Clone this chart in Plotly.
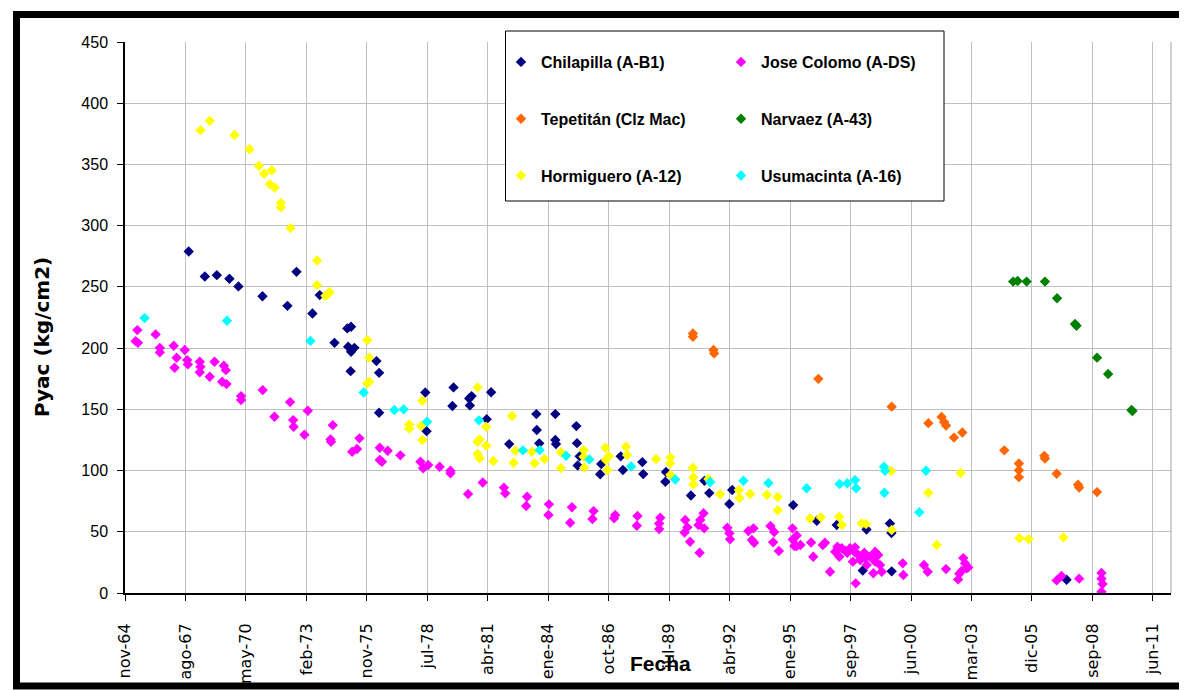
import plotly.graph_objects as go
from datetime import datetime, timedelta

# ---------------- data (decimal year, Pyac kg/cm2) ----------------
chil_x = [1967.77, 1968.50, 1969.04, 1969.61, 1970.02, 1971.11, 1972.24, 1972.65, 1973.37, 1973.70,
          1974.37, 1974.95, 1975.12, 1974.99, 1975.27, 1975.12, 1975.10, 1976.27, 1976.39, 1976.39,
          1978.48, 1978.54, 1979.76, 1979.71, 1980.47, 1980.58, 1980.50, 1981.46, 1981.26, 1982.28,
          1983.51, 1984.37, 1983.53, 1983.64, 1984.37, 1984.40, 1985.32, 1985.35, 1985.47, 1985.38,
          1986.40, 1986.45, 1987.33, 1987.43, 1988.31, 1988.35, 1989.38, 1989.35, 1990.51, 1991.12,
          1991.34, 1992.38, 1992.25, 1995.14, 1996.21, 1997.11, 1998.46, 1999.52, 1999.59, 1998.29,
          1999.60, 2007.52]
chil_y = [278.9, 258.5, 259.6, 256.6, 250.4, 242.4, 234.5, 262.3, 228.3, 243.3,
          204.3, 216.1, 217.4, 201.1, 200.2, 197.0, 181.2, 189.4, 179.8, 147.2,
          163.7, 132.2, 167.9, 152.7, 158.8, 160.8, 153.2, 163.9, 142.0, 121.6,
          146.1, 146.1, 133.1, 122.2, 124.9, 121.6, 136.3, 122.4, 111.6, 104.1,
          97.0, 105.3, 111.6, 100.4, 106.9, 97.1, 98.8, 90.9, 79.6, 91.6,
          81.6, 84.1, 72.7, 71.8, 59.0, 55.5, 51.8, 56.7, 49.0, 18.4,
          17.7, 10.8]

colomo_x = [1965.44, 1965.36, 1965.47, 1966.27, 1966.46, 1966.46, 1967.09, 1967.22, 1967.13, 1967.59,
            1967.70, 1967.73, 1968.27, 1968.30, 1968.27, 1968.94, 1968.72, 1969.36, 1969.45, 1969.28,
            1969.48, 1970.14, 1970.14, 1971.12, 1971.65, 1972.36, 1972.50, 1972.52, 1973.01, 1973.16,
            1974.29, 1974.19, 1974.21, 1975.50, 1975.39, 1975.17, 1976.42, 1976.78, 1976.42, 1976.52,
            1977.35, 1978.26, 1978.38, 1978.61, 1979.13, 1979.62, 1979.62, 1980.42, 1981.08, 1982.04,
            1982.10, 1983.09, 1983.05, 1984.08, 1984.06, 1985.12, 1985.04, 1986.10, 1986.05, 1987.08,
            1987.03, 1988.09, 1988.06, 1989.12, 1989.07, 1989.07, 1990.25, 1990.35, 1990.22, 1990.47,
            1990.90, 1990.93, 1991.08, 1991.11, 1990.85, 1992.16, 1992.25, 1992.28, 1993.11, 1993.34,
            1993.27, 1993.37, 1994.11, 1994.28, 1994.23, 1994.49, 1995.11, 1995.12, 1995.30, 1995.30,
            1995.47, 1995.19, 1995.95, 1996.05, 1996.48, 1996.58, 1996.81, 1997.04, 1997.14, 1997.23,
            1997.34, 1997.49, 1997.59, 1997.71, 1997.94, 1997.91, 1997.84, 1998.09, 1998.17, 1998.36,
            1998.39, 1998.47, 1998.62, 1998.85, 1998.99, 1998.85, 1999.07, 1998.77, 1999.15, 1997.97,
            2000.10, 2000.13, 2001.06, 2001.23, 2002.06, 2002.66, 2002.61, 2002.84, 2002.92, 2002.99,
            2002.77, 2003.07, 2007.07, 2007.29, 2008.09, 2009.10, 2009.10, 2009.15, 2009.10]
colomo_y = [214.7, 205.7, 204.3, 211.2, 200.2, 196.5, 201.9, 192.1, 183.9, 198.4,
            190.2, 186.7, 188.8, 184.7, 180.2, 188.8, 176.6, 185.6, 182.0, 172.5,
            170.6, 160.8, 157.6, 165.7, 143.9, 155.9, 141.2, 135.8, 129.2, 148.8,
            137.1, 125.5, 123.5, 126.3, 117.6, 115.3, 118.6, 116.2, 108.6, 107.2,
            112.4, 107.2, 101.8, 104.5, 103.1, 99.8, 97.7, 80.8, 90.2, 86.1,
            81.4, 78.6, 71.0, 72.4, 63.7, 70.0, 57.4, 66.9, 60.4, 63.7,
            61.0, 62.9, 54.9, 61.5, 56.7, 52.2, 59.6, 53.6, 49.4, 41.9,
            32.9, 59.6, 65.1, 52.8, 55.5, 53.3, 48.7, 43.8, 50.6, 52.8,
            43.3, 41.1, 54.7, 49.8, 41.4, 34.3, 52.8, 43.7, 46.9, 38.4,
            39.2, 38.4, 41.2, 29.6, 39.2, 41.1, 17.4, 33.7, 37.8, 29.6,
            36.5, 34.5, 32.9, 36.5, 37.3, 33.7, 25.6, 31.0, 26.9, 32.9,
            28.3, 22.9, 29.6, 33.7, 31.0, 25.6, 22.9, 16.1, 17.4, 7.9,
            24.2, 14.7, 22.9, 17.4, 19.5, 15.8, 11.1, 28.5, 24.3, 20.1,
            18.1, 20.9, 10.3, 13.9, 11.7, 16.4, 11.7, 7.4, 1.0]

tepe_x = [1990.60, 1990.60, 1991.53, 1991.56, 1996.28, 1999.60, 2001.26, 2001.86, 2001.97, 2002.06,
          2002.42, 2002.80, 2004.70, 2005.36, 2005.36, 2005.36, 2006.51, 2006.54, 2007.07, 2008.04,
          2008.09, 2008.90]
tepe_y = [212.0, 209.2, 198.4, 195.7, 174.9, 152.2, 138.7, 143.8, 139.6, 136.7,
          126.9, 131.1, 116.5, 105.8, 100.2, 94.6, 112.0, 109.8, 97.4, 88.4,
          86.1, 82.4]

narv_x = [2005.10, 2005.30, 2005.71, 2006.54, 2007.09, 2007.90, 2007.97, 2008.90, 2009.40, 2010.46, 2010.50]
narv_y = [254.3, 254.8, 254.3, 254.3, 240.7, 219.7, 218.3, 192.2, 178.9, 149.4, 148.6]

horm_x = [1968.30, 1968.72, 1969.84, 1970.52, 1970.94, 1971.18, 1971.53, 1971.44, 1971.66, 1971.94,
          1971.94, 1972.38, 1973.58, 1973.58, 1973.96, 1974.15, 1974.06, 1975.86, 1975.94, 1975.94,
          1975.85, 1978.35, 1977.75, 1977.75, 1978.29, 1978.35, 1980.85, 1981.24, 1980.85, 1980.94,
          1980.85, 1980.94, 1981.24, 1981.56, 1982.41, 1982.56, 1982.48, 1983.31, 1983.43, 1983.88,
          1984.62, 1984.62, 1985.65, 1985.65, 1985.68, 1986.64, 1986.79, 1986.66, 1986.72, 1987.57,
          1987.62, 1988.93, 1989.58, 1989.57, 1989.58, 1990.60, 1990.62, 1990.62, 1991.30, 1991.83,
          1992.68, 1992.71, 1993.19, 1993.95, 1994.44, 1994.44, 1995.90, 1996.39, 1997.22, 1997.34,
          1998.24, 1998.44, 1999.60, 1999.57, 2001.26, 2001.64, 2002.72, 2005.38, 2005.80, 2007.38]
horm_y = [378.0, 385.6, 374.1, 362.4, 348.8, 342.3, 345.3, 333.9, 331.2, 318.6,
          314.9, 298.0, 271.6, 251.4, 242.7, 245.7, 243.8, 206.5, 192.2, 172.5,
          171.2, 157.0, 137.7, 134.4, 136.3, 124.9, 167.9, 135.8, 123.5, 125.5,
          113.5, 110.0, 120.2, 107.8, 144.5, 116.2, 106.4, 115.3, 105.9, 109.4,
          114.9, 102.0, 116.7, 111.3, 102.4, 118.6, 111.8, 108.6, 100.4, 119.4,
          112.7, 109.4, 110.6, 105.9, 96.6, 102.3, 94.3, 88.7, 93.1, 80.7,
          84.1, 77.6, 80.8, 80.2, 78.4, 67.5, 60.8, 61.8, 62.3, 55.5,
          56.9, 56.3, 51.4, 99.6, 81.9, 39.2, 98.0, 44.8, 44.0, 45.4]

usum_x = [1965.77, 1969.50, 1973.28, 1975.69, 1977.08, 1977.50, 1978.56, 1980.91, 1982.90, 1983.66,
          1984.86, 1985.91, 1987.80, 1989.80, 1991.38, 1992.89, 1994.02, 1995.75, 1997.24, 1997.59,
          1997.94, 1997.99, 1999.25, 1999.30, 1999.27, 2000.85, 2001.15]
usum_y = [224.5, 222.4, 205.9, 163.8, 149.4, 150.0, 139.8, 141.0, 116.5, 116.7,
          112.1, 109.1, 103.3, 92.7, 90.6, 91.7, 89.8, 85.6, 89.0, 89.6,
          92.2, 85.5, 103.1, 99.8, 81.9, 65.9, 99.8]

tick_labels = ["nov-64", "ago-67", "may-70", "feb-73", "nov-75", "jul-78", "abr-81", "ene-84", "oct-86",
               "jul-89", "abr-92", "ene-95", "sep-97", "jun-00", "mar-03", "dic-05", "sep-08", "jun-11"]

series = [
    ("Chilapilla (A-B1)", chil_x, chil_y, "#000080", "legend"),
    ("Jose Colomo (A-DS)", colomo_x, colomo_y, "#FF00FF", "legend2"),
    ("Tepetitán (Clz Mac)", tepe_x, tepe_y, "#FF6600", "legend"),
    ("Narvaez (A-43)", narv_x, narv_y, "#008000", "legend2"),
    ("Hormiguero (A-12)", horm_x, horm_y, "#FFFF00", "legend"),
    ("Usumacinta (A-16)", usum_x, usum_y, "#00FFFF", "legend2"),
]


def to_date(v):
    y = int(v)
    return datetime(y, 1, 1) + timedelta(days=(v - y) * 365.25)


start = datetime(1964, 11, 19)          # Excel axis minimum (serial 23700)
tick_vals = [start + timedelta(days=1000 * i) for i in range(len(tick_labels))]
x_end = start + timedelta(days=17300)

fig = go.Figure()
for name, xs, ys, col, lg in series:
    fig.add_trace(go.Scatter(
        x=[to_date(v) for v in xs], y=ys, mode="markers", name=name,
        legend=lg, legendgroup=name,
        marker=dict(symbol="diamond", size=8, color=col, line=dict(width=0)),
    ))

# page geometry (the page body adds an 8px offset)
OFF = 8
W, H = 1187 - OFF, 690 - OFF
PL, PT, PR, PB = 125, 42, 1171, 593     # plot area in page pixels
L, T = PL - OFF, PT - OFF
R, B = W - (PR - OFF), H - (PB - OFF)
pw, ph = PR - PL, PB - PT


def px(xp):
    return (xp - PL) / pw


def py(yp):
    return (PB - yp) / ph


legend_font = dict(family="Liberation Sans, Arial", size=16, color="black", weight="bold")
common_leg = dict(bgcolor="rgba(0,0,0,0)", borderwidth=0, font=legend_font,
                  traceorder="grouped", tracegroupgap=33, xanchor="left", yanchor="top",
                  orientation="v", itemclick=False)

fig.update_layout(
    width=W, height=H,
    margin=dict(l=L, r=R, t=T, b=B, pad=0, autoexpand=False),
    paper_bgcolor="white", plot_bgcolor="white",
    showlegend=True,
    legend=dict(x=px(501), y=py(45), **common_leg),
    legend2=dict(x=px(721), y=py(45), **common_leg),
    xaxis=dict(
        type="date", range=[start, x_end], automargin=False,
        tickmode="array", tickvals=tick_vals, ticktext=tick_labels, tickangle=-90,
        showgrid=True, gridcolor="#c0c0c0", gridwidth=1,
        ticks="outside", ticklen=6, tickcolor="black", tickwidth=1,
        ticklabelstandoff=16,
        showline=True, linecolor="black", linewidth=2,
        tickfont=dict(family="DejaVu Sans", size=16, color="black"),
        zeroline=False,
    ),
    yaxis=dict(
        range=[0, 450], tickmode="linear", tick0=0, dtick=50, automargin=False,
        showgrid=True, gridcolor="#c0c0c0", gridwidth=1,
        ticks="outside", ticklen=6, tickcolor="black", tickwidth=1,
        ticklabelstandoff=6,
        showline=True, linecolor="black", linewidth=1.5,
        tickfont=dict(family="Liberation Sans, Arial", size=16, color="black"),
        zeroline=False,
    ),
    shapes=[
        # right border of plot area
        dict(type="line", xref="paper", yref="paper", x0=1, x1=1, y0=0, y1=1,
             line=dict(color="#a0a0a0", width=1)),
        # legend box
        dict(type="rect", xref="paper", yref="paper", layer="above",
             x0=px(505.5), x1=px(944), y0=py(201), y1=py(31),
             fillcolor="white", line=dict(color="black", width=1)),
        # outer frame
        dict(type="rect", xref="paper", yref="paper", layer="above",
             x0=px(16.5), x1=px(1184), y0=py(686), y1=py(14.5),
             fillcolor="rgba(0,0,0,0)", line=dict(color="black", width=7)),
    ],
    annotations=[
        dict(text="Fecha", xref="paper", yref="paper", x=px(660), y=py(663),
             xanchor="center", yanchor="middle", showarrow=False,
             font=dict(family="Liberation Sans, Arial", size=21, color="black", weight="bold")),
        dict(text="Pyac (kg/cm2)", xref="paper", yref="paper", x=px(42), y=py(337),
             xanchor="center", yanchor="middle", showarrow=False, textangle=-90,
             font=dict(family="DejaVu Sans", size=20, color="black", weight="bold")),
    ],
)

fig.write_html("out.html")
